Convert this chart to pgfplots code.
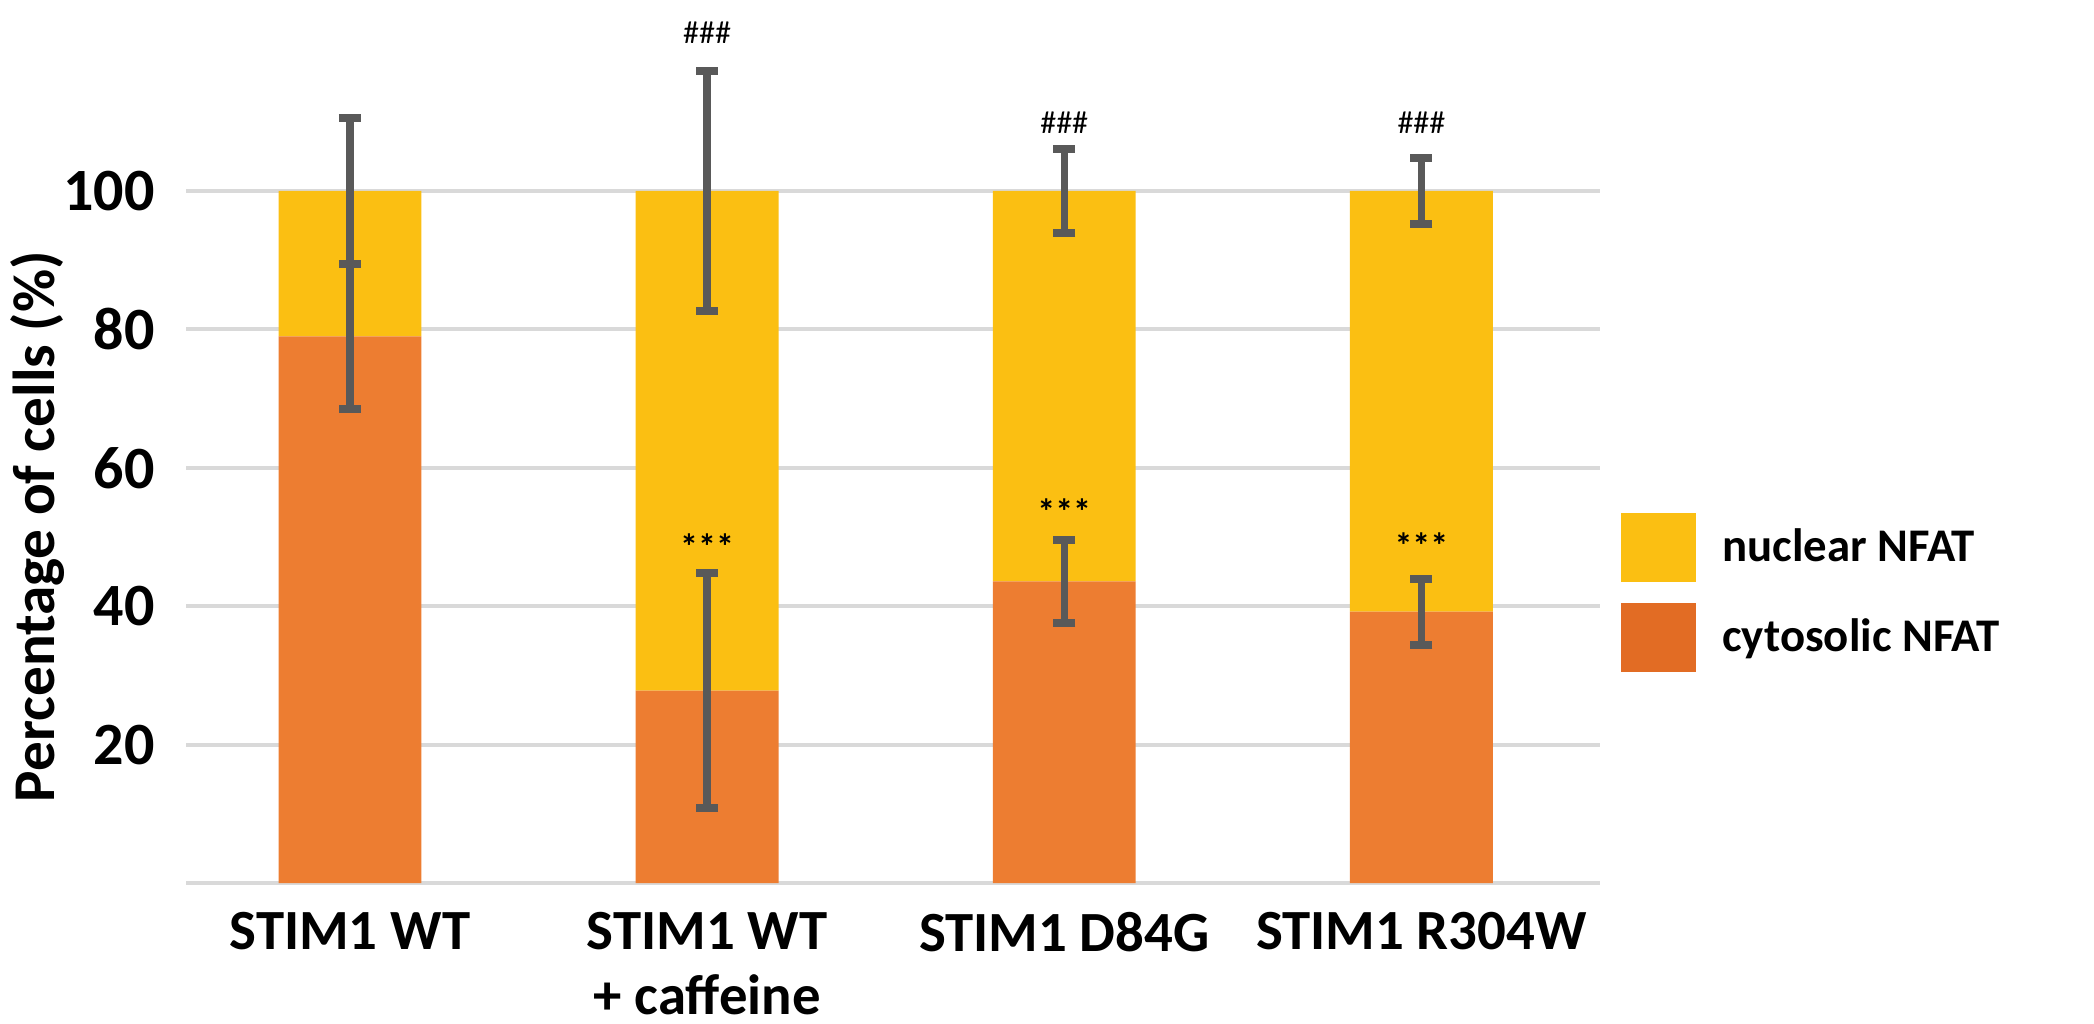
\documentclass[border=0pt]{standalone}
\usepackage{fontspec}
\setmainfont{Carlito}
\usepackage{pgfplots}
\usepackage{pgfplotstable}
\pgfplotsset{compat=1.18}
\definecolor{nuc}{RGB}{251,191,18}
\definecolor{cyt}{RGB}{237,125,49}
\definecolor{cytleg}{RGB}{226,108,36}
\definecolor{errc}{RGB}{89,89,89}
\definecolor{gridc}{RGB}{217,217,217}

\pgfplotstableread{
x cyt cyterr nuc nucerr
0 79.0 10.5 21.0 10.5
1 27.8 17.0 72.2 17.3
2 43.6 6.0  56.4 6.0
3 39.2 4.8  60.8 4.7
}\datatable

\begin{document}
\begin{tikzpicture}
\useasboundingbox (0,0) rectangle (523.5bp,256bp);
\begin{axis}[
  at={(46.5bp,35.25bp)}, anchor=south west,
  width=353.5bp, height=216.25bp, scale only axis,
  ybar stacked, bar width=0.4,
  xmin=-0.459, xmax=3.5, ymin=0, ymax=125,
  axis x line*=bottom, axis y line*=left,
  y axis line style={draw=none},
  x axis line style={draw=gridc, line width=1bp, -},
  major tick length=0pt,
  ytick={20,40,60,80,100},
  xtick={0,1,2,3},
  xticklabels={{STIM1 WT},{STIM1 WT\\+ caffeine},{STIM1 D84G},{STIM1 R304W}},
  /pgf/number format/assume math mode=true,
  xticklabel style={font=\bfseries\fontsize{14.2bp}{16.3bp}\selectfont, align=center, anchor=north, inner sep=0pt, yshift=-7bp},
  yticklabel style={font=\bfseries\fontsize{15bp}{17bp}\selectfont, anchor=east, inner sep=0pt, xshift=-7.6bp},
  ymajorgrids, grid style={draw=gridc, line width=1bp},
  ylabel={Percentage of cells (\%)},
  every axis y label/.style={at={(rel axis cs:-0.105,0.412)}, rotate=90, anchor=center},
  ylabel style={font=\bfseries\fontsize{14.8bp}{17bp}\selectfont},
  clip=false,
  legend style={at={(axis cs:3.560,53.5)}, anchor=north west, draw=none, fill=none,
    inner sep=0pt, outer sep=0pt, row sep=5.4bp,
    font=\bfseries\fontsize{11.7bp}{14bp}\selectfont,
    nodes={inner sep=0pt, text height=10bp, text depth=0bp},
    /tikz/every odd column/.append style={column sep=6.5bp}},
  legend cell align=left,
  legend image code/.code={\fill[#1] (0bp,-10.1bp) rectangle (18.7bp,7.1bp);},
]
\addplot[fill=cyt, draw=none, forget plot,
  error bars/.cd, y dir=both, y explicit,
  error bar style={errc, line width=1.8bp},
  error mark options={errc, rotate=90, line width=2bp, mark size=2.75bp}]
  table[x=x, y=cyt, y error=cyterr] {\datatable};
\addplot[fill=nuc, draw=none, forget plot,
  error bars/.cd, y dir=both, y explicit,
  error bar style={errc, line width=1.8bp},
  error mark options={errc, rotate=90, line width=2bp, mark size=2.75bp}]
  table[x=x, y=nuc, y error=nucerr] {\datatable};
\addlegendimage{fill=nuc, draw=none}
\addlegendentry{nuclear NFAT}
\addlegendimage{fill=cytleg, draw=none}
\addlegendentry{cytosolic NFAT}
\coordinate (h1) at (axis cs:1,122.9);
\coordinate (h2) at (axis cs:2,109.8);
\coordinate (h3) at (axis cs:3,109.8);
\coordinate (s1) at (axis cs:1,48.6);
\coordinate (s2) at (axis cs:2,53.6);
\coordinate (s3) at (axis cs:3,48.8);
\end{axis}
\foreach \c in {h1,h2,h3}{\node[font=\fontsize{8bp}{9bp}\selectfont] at (\c) {\#\#\#};}
\foreach \c in {s1,s2,s3}{\node[font=\bfseries\fontsize{9bp}{9bp}\selectfont] at (\c) {***};}
\end{tikzpicture}
\end{document}
